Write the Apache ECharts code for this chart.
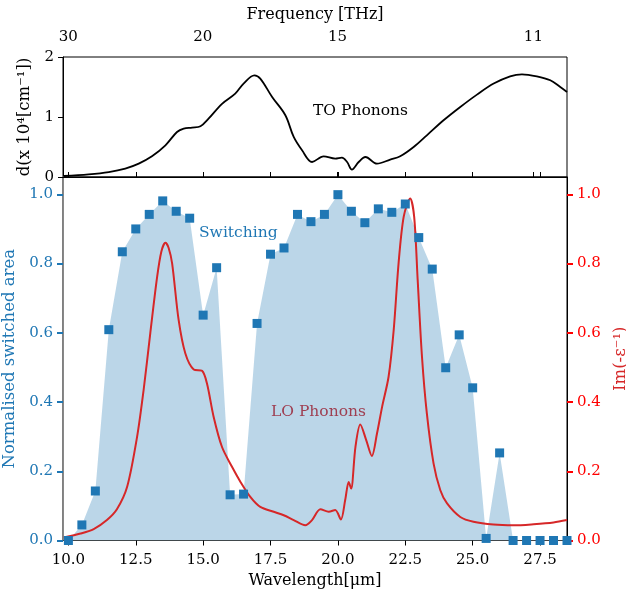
<!DOCTYPE html>
<html>
<head>
<meta charset="utf-8">
<script src="https://cdn.jsdelivr.net/npm/echarts@6.0.0/dist/echarts.min.js"></script>
<style>
  html, body { margin: 0; padding: 0; background: #fff; }
  #chart { width: 626px; height: 593px; }
</style>
</head>
<body>
<div id="chart"></div>
<script>
// switching data (wavelength in um, normalised area)
var sw_x = [10.0, 10.5, 11.0, 11.5, 12.0, 12.5, 13.0, 13.5, 14.0, 14.5,
            15.0, 15.5, 16.0, 16.5, 17.0, 17.5, 18.0, 18.5, 19.0, 19.5,
            20.0, 20.5, 21.0, 21.5, 22.0, 22.5, 23.0, 23.5, 24.0, 24.5,
            25.0, 25.5, 26.0, 26.5, 27.0, 27.5, 28.0, 28.5];
var sw_y = [0, 0.045, 0.143, 0.609, 0.834, 0.900, 0.942, 0.981, 0.951, 0.931,
            0.651, 0.788, 0.132, 0.134, 0.627, 0.827, 0.845, 0.942, 0.921, 0.942,
            0.999, 0.951, 0.918, 0.958, 0.948, 0.972, 0.875, 0.784, 0.499, 0.594,
            0.441, 0.006, 0.253, 0, 0, 0, 0, 0];

// LO phonons, Im(-1/eps)
var lo_x = [9.83, 10.45, 10.94, 11.43, 11.8, 12.18, 12.55, 12.79, 13.04, 13.29,
            13.45, 13.6, 13.72, 13.85, 14.09, 14.34, 14.65, 14.96, 15.14, 15.39,
            15.7, 16.07, 16.38, 16.75, 17.12, 17.62, 17.99, 18.36, 18.79, 19.04,
            19.35, 19.66, 19.9, 20.11, 20.27, 20.4, 20.49, 20.65, 20.83, 21.05,
            21.26, 21.45, 21.64, 21.88, 22.07, 22.25, 22.44, 22.68, 22.83, 22.96,
            23.12, 23.3, 23.55, 23.8, 24.05, 24.54, 25.03, 25.77, 26.52, 27.26,
            28.0, 28.5];
var lo_y = [0.009, 0.020, 0.033, 0.059, 0.090, 0.155, 0.300, 0.434, 0.600, 0.760,
            0.835, 0.860, 0.845, 0.800, 0.637, 0.540, 0.494, 0.490, 0.454, 0.357,
            0.270, 0.213, 0.170, 0.126, 0.097, 0.083, 0.073, 0.059, 0.044, 0.059,
            0.090, 0.083, 0.088, 0.061, 0.117, 0.169, 0.150, 0.270, 0.335, 0.290,
            0.244, 0.309, 0.386, 0.473, 0.608, 0.800, 0.935, 0.988, 0.935, 0.752,
            0.530, 0.367, 0.222, 0.145, 0.107, 0.068, 0.054, 0.046, 0.044, 0.047,
            0.052, 0.059];

// TO phonons absorption, d (x 10^4 cm^-1)
var to_x = [9.83, 10.75, 11.5, 12.11, 12.61, 13.1, 13.6, 14.03, 14.28, 14.59,
            14.9, 15.2, 15.7, 16.19, 16.5, 16.9, 17.12, 17.56, 18.05, 18.36,
            18.67, 19.04, 19.47, 19.9, 20.15, 20.34, 20.52, 20.77, 21.02, 21.45,
            21.94, 22.31, 22.81, 23.3, 23.92, 24.54, 25.16, 25.78, 26.39, 26.83,
            27.38, 27.88, 28.25, 28.5];
var to_y = [0.017, 0.045, 0.083, 0.140, 0.223, 0.345, 0.528, 0.750, 0.807, 0.823,
            0.845, 0.973, 1.220, 1.390, 1.557, 1.695, 1.640, 1.333, 1.030, 0.667,
            0.445, 0.250, 0.345, 0.307, 0.323, 0.250, 0.123, 0.250, 0.333, 0.223,
            0.290, 0.345, 0.500, 0.695, 0.945, 1.167, 1.373, 1.557, 1.678, 1.712,
            1.678, 1.612, 1.500, 1.417];

var wl_ticks = [10.0, 12.5, 15.0, 17.5, 20.0, 22.5, 25.0, 27.5];
var freq_ticks = [30, 20, 15, 11];
var y_ticks = [0, 0.2, 0.4, 0.6, 0.8, 1.0];

var C = 299.792458; // um*THz
var freq_wl = freq_ticks.map(function (f) { return C / f; });

function pairs(xs, ys) {
	var out = [];
	for (var i = 0; i < xs.length; i++) out.push([xs[i], ys[i]]);
	return out;
}

var FONT = 'DejaVu Serif';
var BLUE = '#1f77b4';
var RED = '#d62728';

var myChart = echarts.init(document.getElementById('chart'));

var option = {
	animation: false,
	textStyle: { fontFamily: FONT },
	grid: [
		{ left: 63, right: 59, top: 57, height: 120, show: true, borderColor: '#000', borderWidth: 1, outerBoundsMode: 'none' },
		{ left: 63, right: 59, top: 177, height: 363.5, show: true, borderColor: '#000', borderWidth: 1, outerBoundsMode: 'none' }
	],
	xAxis: [
		{
			gridIndex: 0, type: 'value', position: 'top', min: 9.8, max: 28.5,
			name: 'Frequency [THz]', nameLocation: 'middle', nameGap: 34,
			nameTextStyle: { fontFamily: FONT, fontSize: 16, color: '#000' },
			axisLine: { lineStyle: { color: '#000', width: 1 } },
			axisTick: { inside: false, length: 5, lineStyle: { color: '#000' }, customValues: freq_wl },
			axisLabel: {
				customValues: freq_wl, margin: 12, fontFamily: FONT, fontSize: 15, color: '#000',
				formatter: function (v) { return String(Math.round(C / v)); }
			},
			splitLine: { show: false }
		},
		{
			gridIndex: 0, type: 'value', position: 'bottom', min: 9.8, max: 28.5,
			axisLine: { lineStyle: { color: '#000' } },
			axisTick: { inside: true, length: 5, lineStyle: { color: '#000' }, customValues: wl_ticks },
			axisLabel: { show: false },
			splitLine: { show: false }
		},
		{
			gridIndex: 1, type: 'value', position: 'bottom', min: 9.8, max: 28.5,
			name: 'Wavelength[μm]', nameLocation: 'middle', nameGap: 31,
			nameTextStyle: { fontFamily: FONT, fontSize: 16, color: '#000' },
			axisLine: { lineStyle: { color: '#444' } },
			axisTick: { length: 5, lineStyle: { color: '#000' }, customValues: wl_ticks },
			axisLabel: {
				customValues: wl_ticks, margin: 12, fontFamily: FONT, fontSize: 15, color: '#000',
				formatter: function (v) { return v.toFixed(1); }
			},
			splitLine: { show: false }
		}
	],
	yAxis: [
		{
			gridIndex: 0, type: 'value', min: 0, max: 2, interval: 1,
			name: 'd(x 10⁴[cm⁻¹])', nameLocation: 'middle', nameRotate: 90, nameGap: 24,
			nameTextStyle: { fontFamily: FONT, fontSize: 16.5, color: '#000' },
			axisLine: { show: true, lineStyle: { color: '#000' } },
			axisTick: { show: true, length: 5, lineStyle: { color: '#000' } },
			axisLabel: { margin: 9, fontFamily: FONT, fontSize: 15, color: '#000' },
			splitLine: { show: false }
		},
		{
			gridIndex: 1, type: 'value', position: 'left', min: 0, max: 1.05,
			name: 'Normalised switched area', nameLocation: 'middle', nameRotate: 90, nameGap: 40,
			nameTextStyle: { fontFamily: FONT, fontSize: 16.5, color: BLUE },
			axisLine: { show: true, lineStyle: { color: '#888' } },
			axisTick: { show: true, length: 6, lineStyle: { color: BLUE, width: 2 }, customValues: y_ticks },
			axisLabel: {
				customValues: y_ticks, margin: 10, fontFamily: FONT, fontSize: 15, color: BLUE,
				formatter: function (v) { return v.toFixed(1); }
			},
			splitLine: { show: false }
		},
		{
			gridIndex: 1, type: 'value', position: 'right', min: 0, max: 1.05,
			name: 'Im(-ε⁻¹)', nameLocation: 'middle', nameRotate: 90, nameGap: 42,
			nameTextStyle: { fontFamily: FONT, fontSize: 16.5, color: RED },
			axisLine: { show: true, lineStyle: { color: '#000' } },
			axisTick: { show: true, length: 6, lineStyle: { color: '#ff0000', width: 2 }, customValues: y_ticks },
			axisLabel: {
				customValues: y_ticks, margin: 10, fontFamily: FONT, fontSize: 15, color: '#ff0000',
				formatter: function (v) { return v.toFixed(1); }
			},
			splitLine: { show: false }
		}
	],
	graphic: [
		{ type: 'text', left: 313, top: 103, style: { text: 'TO Phonons', font: '15.5px "DejaVu Serif"', fill: '#000' } },
		{ type: 'text', left: 199, top: 225, style: { text: 'Switching', font: '15.5px "DejaVu Serif"', fill: BLUE } },
		{ type: 'text', left: 271, top: 404, style: { text: 'LO Phonons', font: '15.5px "DejaVu Serif"', fill: RED } }
	],
	series: [
		{
			name: 'TO', type: 'line', xAxisIndex: 1, yAxisIndex: 0,
			data: pairs(to_x, to_y), smooth: 0.35, showSymbol: false,
			lineStyle: { color: '#000', width: 1.8 }
		},
		{
			name: 'fill', type: 'line', xAxisIndex: 2, yAxisIndex: 1,
			data: pairs(sw_x, sw_y), showSymbol: false, z: 1,
			lineStyle: { width: 0 },
			areaStyle: { color: 'rgba(31,119,180,0.3)', opacity: 1 }
		},
		{
			name: 'LO', type: 'line', xAxisIndex: 2, yAxisIndex: 2,
			data: pairs(lo_x, lo_y), smooth: 0.3, showSymbol: false, z: 3,
			lineStyle: { color: RED, width: 2 }
		},
		{
			name: 'Switching', type: 'scatter', xAxisIndex: 2, yAxisIndex: 1,
			data: pairs(sw_x, sw_y), symbol: 'rect', symbolSize: 9, z: 4,
			itemStyle: { color: BLUE, opacity: 1 }
		}
	]
};

myChart.setOption(option);
</script>
</body>
</html>
